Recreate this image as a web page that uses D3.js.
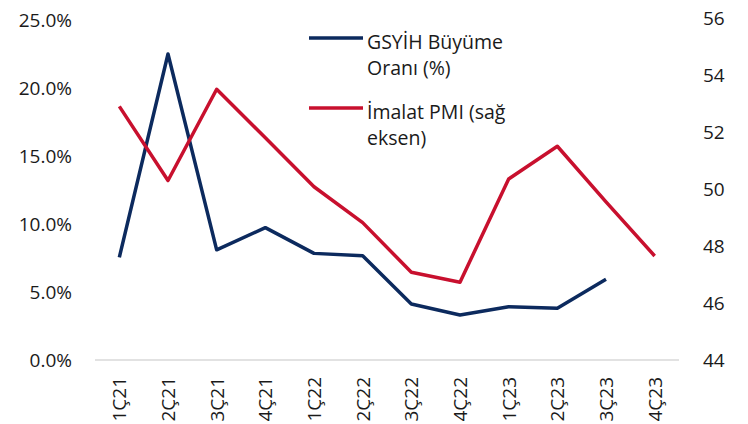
<!DOCTYPE html>
<html>
<head>
<meta charset="utf-8">
<script src="https://cdn.jsdelivr.net/npm/d3@7"></script>
<style>
  body { margin: 0; background: #fff; }
  text { font-family: "Open Sans", "Noto Sans", sans-serif; fill: #1a1a1a; }
</style>
</head>
<body>
<div id="chart"></div>
<script>
var quarters = ["1Ç21", "2Ç21", "3Ç21", "4Ç21", "1Ç22", "2Ç22", "3Ç22", "4Ç22", "1Ç23", "2Ç23", "3Ç23", "4Ç23"];
// GDP growth, left axis (%), no value for 4Ç23
var gdpGrowth = [7.55, 22.5, 8.1, 9.73, 7.84, 7.67, 4.12, 3.31, 3.92, 3.8, 5.93, null];
// manufacturing PMI, right axis
var pmi = [52.9, 50.3, 53.5, 51.8, 50.08, 48.82, 47.08, 46.73, 50.35, 51.5, 49.55, 47.65];
var leftTicks = [0, 5, 10, 15, 20, 25];
var rightTicks = [44, 46, 48, 50, 52, 54, 56];

var width = 748, height = 424;
var margin = { top: 20, left: 95, right: 69, bottom: 64 };
var axisFont = "19px";
var legendFont = "19.5px";

var svg = d3.select("#chart")
  .append("svg")
  .attr("width", width)
  .attr("height", height);

var x = d3.scaleBand()
  .domain(quarters)
  .range([margin.left, width - margin.right]);

var yLeft = d3.scaleLinear()
  .domain([0, 25])
  .range([height - margin.bottom, margin.top]);

var yRight = d3.scaleLinear()
  .domain([44, 56])
  .range([height - margin.bottom, 18]);

// left axis labels
svg.append("g")
  .attr("transform", "translate(72,0)")
  .call(d3.axisLeft(yLeft).tickValues(leftTicks).tickSize(0).tickPadding(0)
    .tickFormat(function(d) { return d.toFixed(1) + "%"; }))
  .call(function(g) { g.select(".domain").remove(); })
  .selectAll("text")
  .style("font-size", axisFont)
  .attr("fill", "#1a1a1a");

// right axis labels
svg.append("g")
  .attr("transform", "translate(703,0)")
  .call(d3.axisRight(yRight).tickValues(rightTicks).tickSize(0).tickPadding(0))
  .call(function(g) { g.select(".domain").remove(); })
  .selectAll("text")
  .style("font-size", axisFont)
  .attr("fill", "#1a1a1a");

// baseline
svg.append("line")
  .attr("x1", margin.left)
  .attr("x2", width - margin.right)
  .attr("y1", yLeft(0))
  .attr("y2", yLeft(0))
  .attr("stroke", "#d9d9d9")
  .attr("stroke-width", 1.5);

// x labels, rotated
svg.append("g")
  .selectAll("text")
  .data(quarters)
  .enter().append("text")
  .attr("transform", function(d) {
    return "translate(" + (x(d) + x.bandwidth() / 2 + 7) + ",377) rotate(-90)";
  })
  .attr("text-anchor", "end")
  .style("font-size", axisFont)
  .text(function(d) { return d; });

var cx = function(d, i) { return x(quarters[i]) + x.bandwidth() / 2; };

var gdpLine = d3.line()
  .defined(function(d) { return d != null; })
  .x(cx)
  .y(function(d) { return yLeft(d); });

var pmiLine = d3.line()
  .x(cx)
  .y(function(d) { return yRight(d); });

svg.append("path")
  .datum(gdpGrowth)
  .attr("d", gdpLine)
  .attr("fill", "none")
  .attr("stroke", "#0c2a5e")
  .attr("stroke-width", 3.5)
  .attr("stroke-linejoin", "round");

svg.append("path")
  .datum(pmi)
  .attr("d", pmiLine)
  .attr("fill", "none")
  .attr("stroke", "#c8102e")
  .attr("stroke-width", 3.5)
  .attr("stroke-linejoin", "round");

// legend
var legend = [
  { color: "#0c2a5e", y: 38, lines: ["GSYİH Büyüme", "Oranı (%)"] },
  { color: "#c8102e", y: 108, lines: ["İmalat PMI (sağ", "eksen)"] }
];

legend.forEach(function(l) {
  svg.append("line")
    .attr("x1", 309).attr("x2", 363)
    .attr("y1", l.y).attr("y2", l.y)
    .attr("stroke", l.color)
    .attr("stroke-width", 3.5);
  l.lines.forEach(function(t, i) {
    svg.append("text")
      .attr("x", 367)
      .attr("y", l.y + 11 + i * 26)
      .style("font-size", legendFont)
      .text(t);
  });
});
</script>
</body>
</html>
